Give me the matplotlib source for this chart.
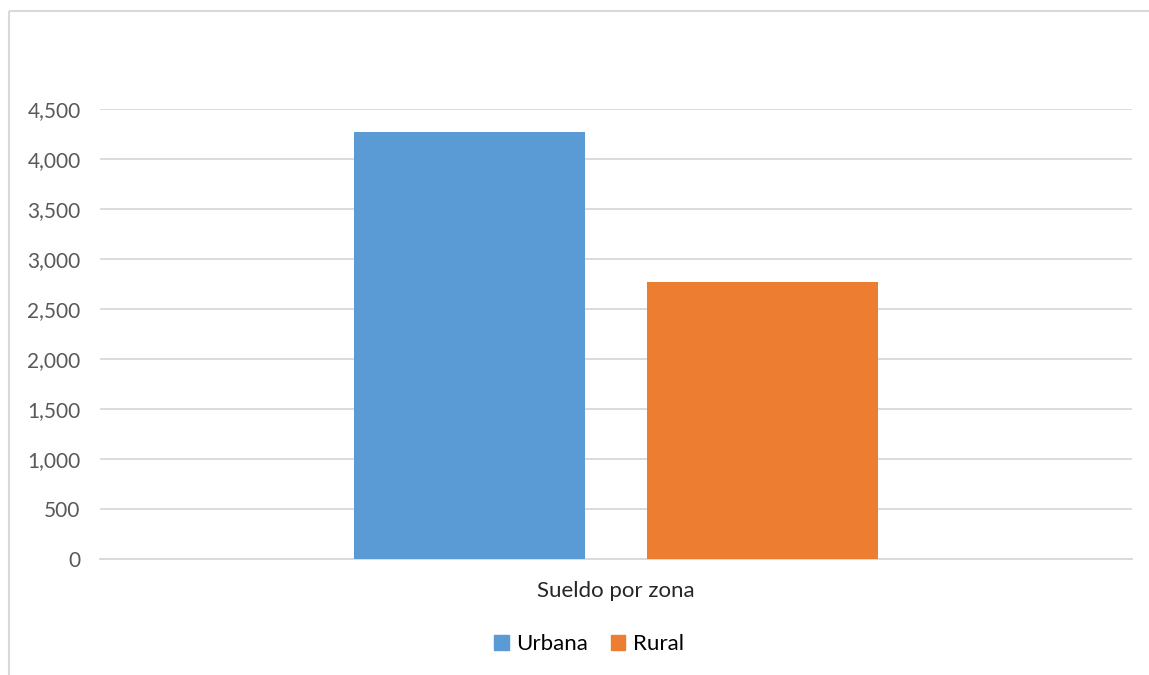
import matplotlib.pyplot as plt
from matplotlib.lines import Line2D
from matplotlib.patches import Patch

# data
category = "Sueldo por zona"
series = ["Urbana", "Rural"]
values = [4270, 2770]
colors = ["#5b9bd5", "#ed7d31"]
yticks = [0, 500, 1000, 1500, 2000, 2500, 3000, 3500, 4000, 4500]

W, H = 1149, 675
fig = plt.figure(figsize=(W / 100, H / 100), dpi=100)
plt.rcParams['font.family'] = ['Lato', 'DejaVu Sans']
fs = 16

# plot area in pixels: x 100..1132, y 109..559
ax = fig.add_axes([100 / W, 1 - 559 / H, 1032 / W, 450 / H])

offsets = [-0.142, 0.142]
width = 0.2238
for name, val, col, off in zip(series, values, colors, offsets):
    ax.bar(0.5 + off, val, width=width, color=col, label=name, zorder=3)

ax.set_xlim(0, 1)
ax.set_ylim(0, 4500)
ax.set_yticks(yticks)
ax.set_yticklabels([f"{t:,}" for t in yticks], color="#595959", fontsize=15)
ax.yaxis.grid(True, color="#d9d9d9", linewidth=1.3, zorder=0)
ax.tick_params(axis="y", length=0, pad=14)
ax.set_xticks([0.5])
ax.set_xticklabels([category], fontsize=fs, color="#262626")
ax.tick_params(axis="x", length=0, pad=16)
for s in ["top", "right", "left"]:
    ax.spines[s].set_visible(False)
ax.spines["bottom"].set_color("#d9d9d9")
ax.spines["bottom"].set_linewidth(1.3)

handles = [Patch(color=c, label=n) for n, c in zip(series, colors)]
fig.legend(handles=handles, loc="center", bbox_to_anchor=(589 / W, 1 - 644 / H),
           ncol=2, frameon=False, fontsize=fs, handlelength=0.65, handleheight=0.65,
           handletextpad=0.35, columnspacing=1.0)

# outer chart border (left and top edges visible)
fig.add_artist(Line2D([8.5 / W, 8.5 / W], [0, 1 - 10.5 / H], transform=fig.transFigure,
                      color="#d9d9d9", linewidth=1.5, solid_capstyle="butt"))
fig.add_artist(Line2D([8.5 / W, 1.01], [1 - 10.5 / H, 1 - 10.5 / H], transform=fig.transFigure,
                      color="#d9d9d9", linewidth=1.5, solid_capstyle="butt"))

fig.savefig("out.png", dpi=100)
